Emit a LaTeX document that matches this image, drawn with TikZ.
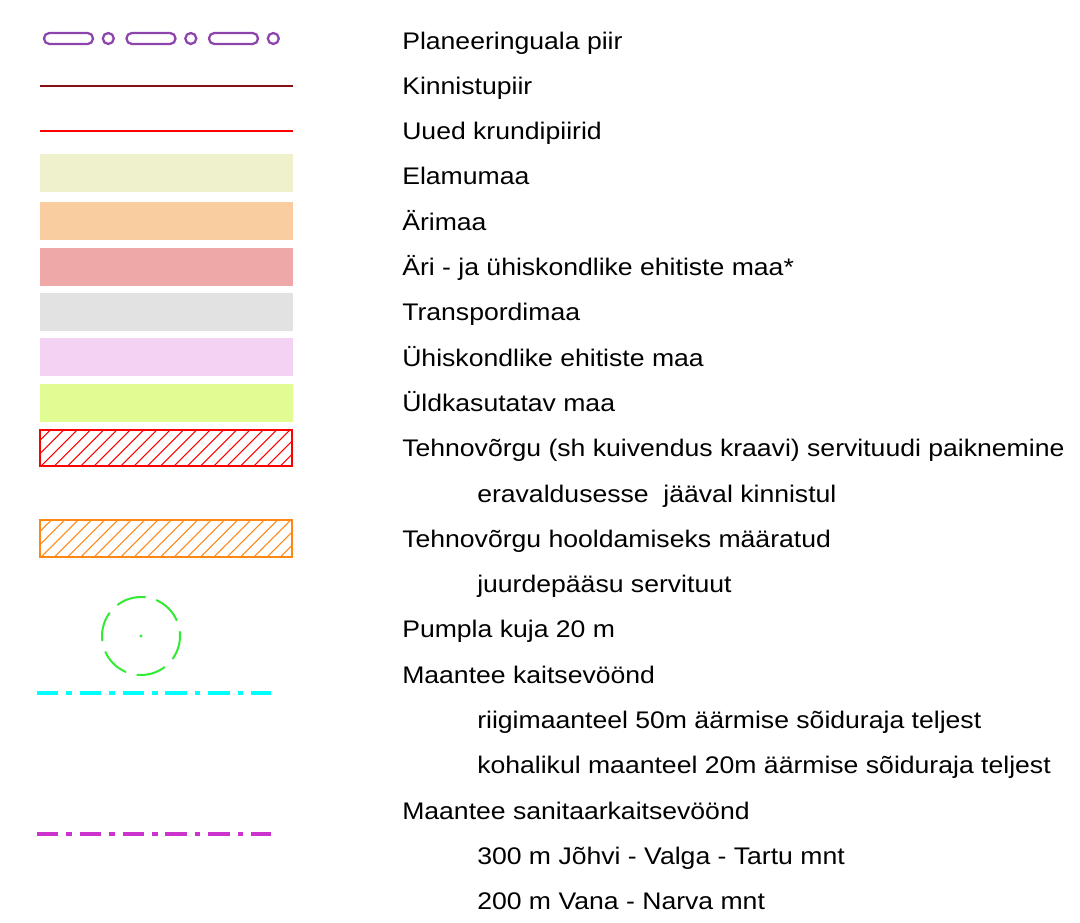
\documentclass[tikz,border=0pt]{standalone}
\usepackage{fontspec}
\setmainfont{Liberation Sans}
\usepackage{graphicx}
\definecolor{cPlan}{RGB}{142,68,173}
\definecolor{cKinn}{RGB}{135,15,15}
\definecolor{cUued}{RGB}{255,0,0}
\definecolor{cElam}{RGB}{239,240,204}
\definecolor{cAri}{RGB}{249,205,160}
\definecolor{cAriJa}{RGB}{238,168,168}
\definecolor{cTrans}{RGB}{226,226,226}
\definecolor{cUhis}{RGB}{243,210,243}
\definecolor{cUld}{RGB}{225,252,146}
\definecolor{cOrange}{RGB}{255,136,20}
\definecolor{cGreen}{RGB}{51,235,51}
\definecolor{cCyan}{RGB}{0,255,255}
\definecolor{cMag}{RGB}{204,51,204}
\newcommand\lbltext[1]{\scalebox{1.108}[1]{#1}}
\begin{document}
\begin{tikzpicture}[x=0.75pt,y=-0.75pt,
  lbl/.style={anchor=base west, inner sep=0pt, text=black, font=\fontsize{18pt}{21pt}\selectfont},
  capsule/.style={draw=cPlan, line width=1.7pt, rounded corners=4pt},
  dashdot/.style={line width=2.8pt, dash pattern=on 16pt off 6pt on 4.3pt off 5.8pt}
]
\useasboundingbox (0,0) rectangle (1080,922);

% --- symbols ---
\foreach \s in {0,1,2} {
  \draw[capsule] ({44+\s*82.5},33) rectangle ({93+\s*82.5},44);
  \draw[draw=cPlan, line width=1.7pt] ({108.3+\s*82.5},38.5) circle[radius=5.5];
}
\draw[cKinn, line width=1.9pt] (40,86) -- (293,86);
\draw[cUued, line width=2.1pt] (40,131) -- (293,131);

\fill[cElam]  (40,154) rectangle (293,192);
\fill[cAri]   (40,202) rectangle (293,240);
\fill[cAriJa] (40,248) rectangle (293,286);
\fill[cTrans] (40,293) rectangle (293,331);
\fill[cUhis]  (40,338) rectangle (293,376);
\fill[cUld]   (40,384) rectangle (293,422);

\begin{scope}
  \clip (40,430) rectangle (292,466);
  \foreach \i in {-3,...,20}
    \draw[cUued, line width=0.8pt] ({40+\i*13.3},467) -- ++(38,-38);
\end{scope}
\draw[cUued, line width=1.9pt] (40,430) rectangle (292,466);

\begin{scope}
  \clip (40,520) rectangle (292,557);
  \foreach \i in {-3,...,20}
    \draw[cOrange, line width=0.8pt] ({40+\i*13.3},558) -- ++(38,-38);
\end{scope}
\draw[cOrange, line width=1.9pt] (40,520) rectangle (292,557);

\draw[cGreen, line width=1.5pt, dash pattern=on 22.5pt off 8.2pt, dash phase=4pt] (141,636) circle[radius=39];
\fill[cGreen] (141,636) circle[radius=1.6];

\draw[cCyan, dashdot] (37,693) -- (271,693);
\draw[cMag, dashdot] (37,834) -- (271,834);

% --- labels ---
\node[lbl] (t1)  at (402,49)    {\lbltext{Planeeringuala piir}};
\node[lbl] (t2)  at (402,94.3)  {\lbltext{Kinnistupiir}};
\node[lbl] (t3)  at (402,139.6) {\lbltext{Uued krundipiirid}};
\node[lbl] (t4)  at (402,184.9) {\lbltext{Elamumaa}};
\node[lbl] (t5)  at (402,230.2) {\lbltext{Ärimaa}};
\node[lbl] (t6)  at (402,275.5) {\lbltext{Äri - ja ühiskondlike ehitiste maa*}};
\node[lbl] (t7)  at (402,320.8) {\lbltext{Transpordimaa}};
\node[lbl] (t8)  at (402,366.1) {\lbltext{Ühiskondlike ehitiste maa}};
\node[lbl] (t9)  at (402,411.4) {\lbltext{Üldkasutatav maa}};
\node[lbl] (t10) at (402,456.7) {\lbltext{Tehnovõrgu (sh kuivendus kraavi) servituudi paiknemine}};
\node[lbl] (t11) at (477,502)   {\lbltext{eravaldusesse\ \ jääval kinnistul}};
\node[lbl] (t12) at (402,547.3) {\lbltext{Tehnovõrgu hooldamiseks määratud}};
\node[lbl] (t13) at (477,592.6) {\lbltext{juurdepääsu servituut}};
\node[lbl] (t14) at (402,637.9) {\lbltext{Pumpla kuja 20 m}};
\node[lbl] (t15) at (402,683.2) {\lbltext{Maantee kaitsevöönd}};
\node[lbl] (t16) at (477,728.5) {\lbltext{riigimaanteel 50m äärmise sõiduraja teljest}};
\node[lbl] (t17) at (477,773.8) {\lbltext{kohalikul maanteel 20m äärmise sõiduraja teljest}};
\node[lbl] (t18) at (402,819.1) {\lbltext{Maantee sanitaarkaitsevöönd}};
\node[lbl] (t19) at (477,864.4) {\lbltext{300 m Jõhvi - Valga - Tartu mnt}};
\node[lbl] (t20) at (477,909.7) {\lbltext{200 m Vana - Narva mnt}};
\end{tikzpicture}
\end{document}
